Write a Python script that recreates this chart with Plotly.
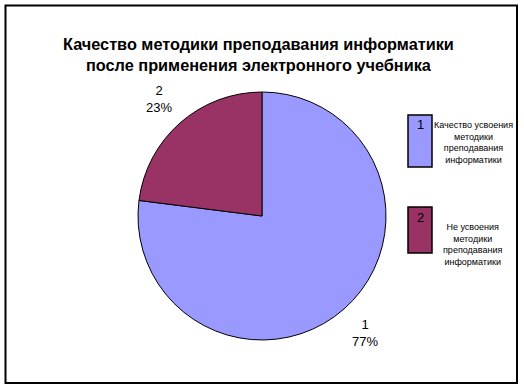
import math
import plotly.graph_objects as go

# Slices of the pie
categories = ["1", "2"]
shares = [77, 23]
descriptions = [
    "Качество усвоения<br>методики<br>преподавания<br>информатики",
    "Не усвоения<br>методики<br>преподавания<br>информатики",
]
colors = ["#9999FF", "#993366"]

title_text = "Качество методики преподавания информатики<br>после применения электронного учебника"

W, H = 524, 388
# pie geometry in pixels
cx, cy, r = 262, 216, 124


def centered(px, py, text, size, bold=False):
    return dict(
        x=px / W, y=1 - py / H, xref="paper", yref="paper",
        xanchor="center", yanchor="middle",
        text=f"<b>{text}</b>" if bold else text,
        showarrow=False, align="center",
        font=dict(family="Arial, Liberation Sans", size=size, color="#000000"),
    )


fig = go.Figure()
fig.add_trace(go.Pie(
    labels=categories,
    values=shares,
    sort=False,
    direction="clockwise",
    rotation=0,
    textinfo="none",
    hoverinfo="label+percent",
    marker=dict(colors=colors, line=dict(color="#000000", width=1)),
    domain=dict(x=[(cx - r) / W, (cx + r) / W], y=[(H - cy - r) / H, (H - cy + r) / H]),
    showlegend=False,
))

annotations = []
# outside labels: "category / percent", placed beyond the middle of each slice
total = sum(shares)
start = 0.0
for cat, val in zip(categories, shares):
    mid = (start + val / 2) / total * 2 * math.pi
    start += val
    lx = cx + 1.26 * r * math.sin(mid)
    ly = cy - 1.26 * r * math.cos(mid)
    pct = round(val / total * 100)
    annotations.append(centered(lx, ly, f"{cat}<br>{pct}%", 13))

# title
annotations.append(centered(258, 55, title_text, 16.3, bold=True))

shapes = [
    # chart frame
    dict(type="rect", xref="paper", yref="paper",
         x0=5.5 / W, x1=517 / W, y0=1 - 383 / H, y1=1 - 5.5 / H,
         line=dict(color="#000000", width=2), fillcolor="rgba(0,0,0,0)"),
]

# legend: tall swatches carrying the category number, with description beside
legend_boxes = [(115, 167), (207, 253)]
legend_text_y = [142, 244]
for cat, desc, col, (y0, y1), ty in zip(categories, descriptions, colors, legend_boxes, legend_text_y):
    shapes.append(dict(type="rect", xref="paper", yref="paper",
                       x0=408 / W, x1=432 / W, y0=1 - y1 / H, y1=1 - y0 / H,
                       line=dict(color="#000000", width=1.5), fillcolor=col))
    annotations.append(centered(420, y0 + 10, cat, 13))
    annotations.append(centered(473, ty, desc, 9))

fig.update_layout(
    width=W, height=H,
    margin=dict(l=0, r=0, t=0, b=0),
    paper_bgcolor="#FFFFFF",
    plot_bgcolor="#FFFFFF",
    shapes=shapes,
    annotations=annotations,
)

fig.write_html("out.html")
